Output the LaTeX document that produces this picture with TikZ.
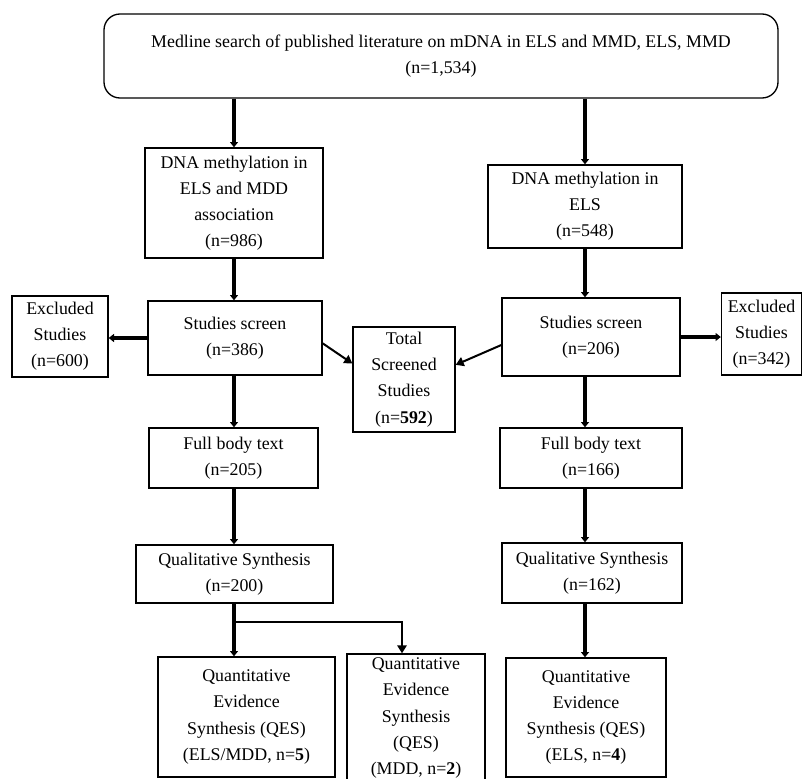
\documentclass[tikz,border=0pt]{standalone}
\usepackage{fontspec}
\setmainfont{Liberation Serif}
\usetikzlibrary{arrows.meta}

\begin{document}
\begin{tikzpicture}[x=0.75pt,y=-0.75pt,
  box/.style={draw,line width=1pt,align=center,inner sep=0pt,font=\fontsize{13.4}{19.6}\selectfont},
  sz/.style 2 args={minimum width=#1*0.75pt,minimum height=#2*0.75pt},
  arr/.style={line width=3pt,-{Triangle[length=4pt,width=6pt]}},
  arrthin/.style={line width=1.5pt,-{Triangle[length=6pt,width=7pt]}}]
  \clip (0,0) rectangle (802,778);
  % top search box
  \node[box,sz={674}{84},rounded corners=12pt] (search) at (441,56) {Medline search of published literature on mDNA in ELS and MMD, ELS, MMD\\(n=1,534)};
  % left column
  \node[box,sz={178}{110}] (dnaL) at (234,203) {DNA methylation in\\ELS and MDD\\association\\(n=986)};
  \node[box,sz={174}{74}] (scrL) at (235,338) {Studies screen\\(n=386)};
  \node[box,sz={96}{81}] (exL) at (60,336.5) {Excluded\\Studies\\(n=600)};
  \node[box,sz={169}{60}] (fullL) at (233.5,458) {Full body text\\(n=205)};
  \node[box,sz={197}{58}] (qualL) at (234.5,574) {Qualitative Synthesis\\(n=200)};
  \node[box,sz={177}{120}] (qesL) at (246.5,717) {Quantitative\\Evidence\\Synthesis (QES)\\(ELS/MDD, n=\textbf{5})};
  \node[box,sz={138}{128}] (qesM) at (416,718) {Quantitative\\Evidence\\Synthesis\\(QES)\\(MDD, n=\textbf{2})};
  % middle
  \node[box,sz={102}{105}] (total) at (404,379.5) {Total\\Screened\\Studies\\(n=\textbf{592})};
  % right column
  \node[box,sz={194}{83}] (dnaR) at (585,206.5) {DNA methylation in\\ELS\\(n=548)};
  \node[box,sz={178}{78}] (scrR) at (591,337) {Studies screen\\(n=206)};
  \node[box,sz={80}{82}] (exR) at (761.5,334) {Excluded\\Studies\\(n=342)};
  \node[box,sz={182}{60}] (fullR) at (591,458) {Full body text\\(n=166)};
  \node[box,sz={180}{60}] (qualR) at (592,573) {Qualitative Synthesis\\(n=162)};
  \node[box,sz={160}{119}] (qesR) at (586,717.5) {Quantitative\\Evidence\\Synthesis (QES)\\(ELS, n=\textbf{4})};

  % vertical arrows
  \draw[arr] (search.south -| dnaL) -- (dnaL.north);
  \draw[arr] (dnaL.south) -- (dnaL.south |- scrL.north);
  \draw[arr] (scrL.south -| dnaL) -- (dnaL |- fullL.north);
  \draw[arr] (fullL.south -| dnaL) -- (dnaL |- qualL.north);
  \draw[arr] (qualL.south -| dnaL) -- (dnaL |- qesL.north);
  \draw[arr] (search.south -| dnaR) -- (dnaR.north);
  \draw[arr] (dnaR.south) -- (dnaR.south |- scrR.north);
  \draw[arr] (scrR.south -| dnaR) -- (dnaR |- fullR.north);
  \draw[arr] (fullR.south -| dnaR) -- (dnaR |- qualR.north);
  \draw[arr] (qualR.south -| dnaR) -- (dnaR |- qesR.north);
  % side arrows
  \draw[arr] (scrL.west) -- (scrL.west -| exL.east);
  \draw[arr] (scrR.east) -- (scrR.east -| exR.west);
  \draw[arrthin] ([yshift=-4pt]scrL.east) -- ([yshift=12pt]total.west);
  \draw[arrthin] ([yshift=-6pt]scrR.west) -- ([yshift=11pt]total.east);
  % branch to second QES
  \coordinate (split) at (234,622);
  \draw[arrthin] (split) -| ([xshift=-10.5pt]qesM.north);
\end{tikzpicture}
\end{document}
